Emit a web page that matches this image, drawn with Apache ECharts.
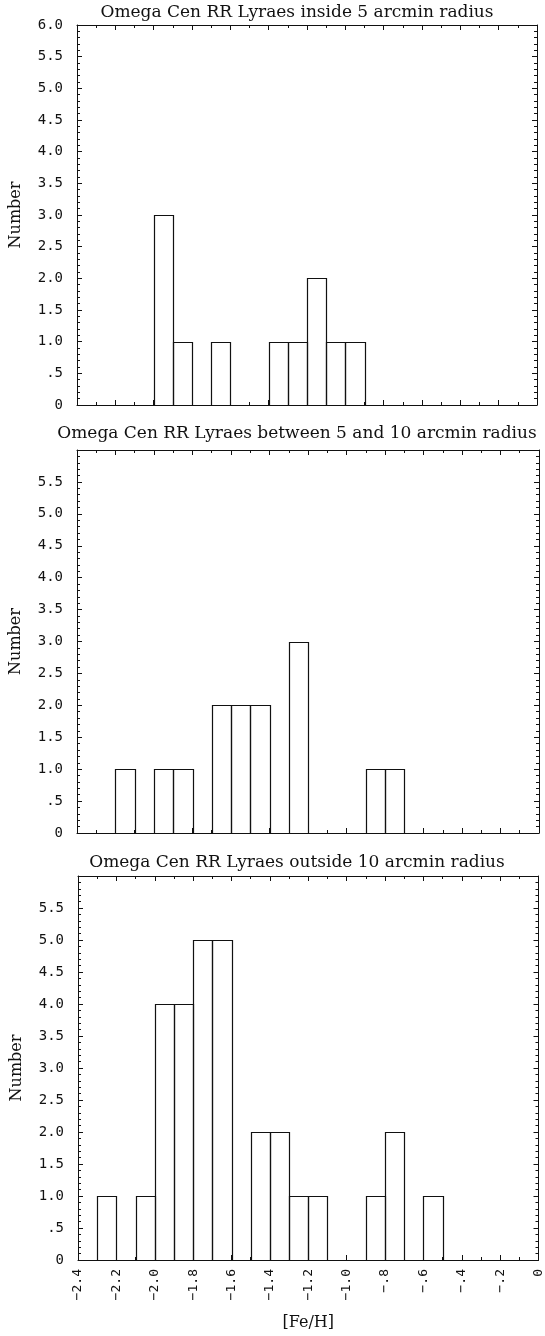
<!DOCTYPE html>
<html>
<head>
<meta charset="utf-8">
<title>Omega Cen RR Lyraes [Fe/H] histograms</title>
<script src="https://cdn.jsdelivr.net/npm/echarts@6/dist/echarts.min.js"></script>
<style>
  html, body { margin: 0; padding: 0; background: #fff; }
  #chart { width: 545px; height: 1336px; }
</style>
</head>
<body>
<div id="chart"></div>
<script>
// [Fe/H] bins: lower edges from -2.4 to -0.1, width 0.1
const binStart = -2.4;
const binWidth = 0.1;

// Number of stars per bin, one array per radial zone
const insideFive = [0, 0, 0, 0, 3, 1, 0, 1, 0, 0, 1, 1, 2, 1, 1, 0, 0, 0, 0, 0, 0, 0, 0, 0];
const fiveToTen  = [0, 0, 1, 0, 1, 1, 0, 2, 2, 2, 0, 3, 0, 0, 0, 1, 1, 0, 0, 0, 0, 0, 0, 0];
const outsideTen = [0, 1, 0, 1, 4, 4, 5, 5, 0, 2, 2, 1, 1, 0, 0, 1, 2, 0, 1, 0, 0, 0, 0, 0];

const panelTitles = [
  'Omega Cen RR Lyraes inside 5 arcmin radius',
  'Omega Cen RR Lyraes between 5 and 10 arcmin radius',
  'Omega Cen RR Lyraes outside 10 arcmin radius'
];

const xTickLabels = ['\u22122.4', '\u22122.2', '\u22122.0', '\u22121.8', '\u22121.6', '\u22121.4',
                     '\u22121.2', '\u22121.0', '\u2212.8', '\u2212.6', '\u2212.4', '\u2212.2', '0'];
const yTickLabels = ['0', '.5', '1.0', '1.5', '2.0', '2.5', '3.0', '3.5', '4.0', '4.5', '5.0', '5.5', '6.0'];

// Panel frames in pixels
const panels = [
  { left: 77, right: 8, top: 25,  height: 380, titleY: 4,   showTop: true  },
  { left: 76, right: 6, top: 450, height: 383, titleY: 425, showTop: false },
  { left: 78, right: 3, top: 876, height: 384, titleY: 854, showTop: false }
];

const zones = [insideFive, fiveToTen, outsideTen];

function toBins(counts) {
  return counts.map(function (n, i) {
    const lo = +(binStart + i * binWidth).toFixed(1);
    const hi = +(lo + binWidth).toFixed(1);
    return [lo, hi, n];
  });
}

function renderBin(params, api) {
  const n = api.value(2);
  if (!n) return null;
  const p0 = api.coord([api.value(0), 0]);
  const p1 = api.coord([api.value(1), n]);
  const x0 = Math.round(p0[0]) + 0.5;
  const x1 = Math.round(p1[0]) + 0.5;
  const yTop = Math.round(p1[1]) + 0.5;
  const yBase = Math.round(p0[1]) + 0.5;
  return {
    type: 'rect',
    shape: { x: x0, y: yTop, width: x1 - x0, height: yBase - yTop },
    style: { fill: 'rgba(0,0,0,0)', stroke: '#111', lineWidth: 1.2 }
  };
}

const ink = '#111';
const tickFont = 'DejaVu Sans Mono';
const textFont = 'DejaVu Serif';

const grid = [], xAxis = [], yAxis = [], series = [], title = [];

panels.forEach(function (p, g) {
  const isLast = g === panels.length - 1;
  grid.push({ left: p.left, right: p.right, top: p.top, height: p.height, containLabel: false });

  title.push({
    text: panelTitles[g],
    left: 297,
    top: p.titleY,
    textAlign: 'center',
    padding: 0,
    textStyle: { fontFamily: textFont, fontSize: 17, fontWeight: 'normal', color: ink }
  });

  const xCommon = {
    type: 'value', gridIndex: g, min: -2.4, max: 0, interval: 0.2,
    axisLine: { show: true, onZero: false, lineStyle: { color: ink, width: 1 } },
    axisTick: { show: true, inside: true, length: 5, lineStyle: { color: ink, width: 1 } },
    minorTick: { show: true, splitNumber: 2, length: 3, lineStyle: { color: ink, width: 1 } },
    splitLine: { show: false },
    minorSplitLine: { show: false }
  };
  xAxis.push(Object.assign({}, xCommon, {
    position: 'bottom',
    name: isLast ? '[Fe/H]' : '',
    nameLocation: 'middle',
    nameGap: 55,
    nameTextStyle: { fontFamily: textFont, fontSize: 16, color: ink },
    axisLabel: {
      show: isLast, rotate: 90, margin: 9,
      fontFamily: tickFont, fontSize: 13, color: ink,
      formatter: function (v) { return xTickLabels[Math.round((v - binStart) / 0.2)]; }
    }
  }));
  xAxis.push(Object.assign({}, xCommon, { position: 'top', axisLabel: { show: false } }));

  const yCommon = {
    type: 'value', gridIndex: g, min: 0, max: 6, interval: 0.5,
    axisLine: { show: true, onZero: false, lineStyle: { color: ink, width: 1 } },
    axisTick: { show: true, inside: true, length: 5, lineStyle: { color: ink, width: 1 } },
    minorTick: { show: true, splitNumber: 5, length: 3, lineStyle: { color: ink, width: 1 } },
    splitLine: { show: false },
    minorSplitLine: { show: false }
  };
  yAxis.push(Object.assign({}, yCommon, {
    position: 'left',
    name: 'Number',
    nameLocation: 'middle',
    nameGap: 53,
    nameTextStyle: { fontFamily: textFont, fontSize: 16, color: ink },
    axisLabel: {
      show: true, margin: 14, showMaxLabel: p.showTop,
      fontFamily: tickFont, fontSize: 14, color: ink,
      formatter: function (v) { return yTickLabels[Math.round(v * 2)]; }
    }
  }));
  yAxis.push(Object.assign({}, yCommon, { position: 'right', axisLabel: { show: false } }));

  series.push({
    type: 'custom',
    xAxisIndex: 2 * g,
    yAxisIndex: 2 * g,
    renderItem: renderBin,
    encode: { x: [0, 1], y: 2 },
    data: toBins(zones[g]),
    silent: true,
    clip: false
  });
});

const chart = echarts.init(document.getElementById('chart'), null, { renderer: 'canvas' });
chart.setOption({
  backgroundColor: '#fff',
  animation: false,
  title: title,
  grid: grid,
  xAxis: xAxis,
  yAxis: yAxis,
  series: series
});
</script>
</body>
</html>
